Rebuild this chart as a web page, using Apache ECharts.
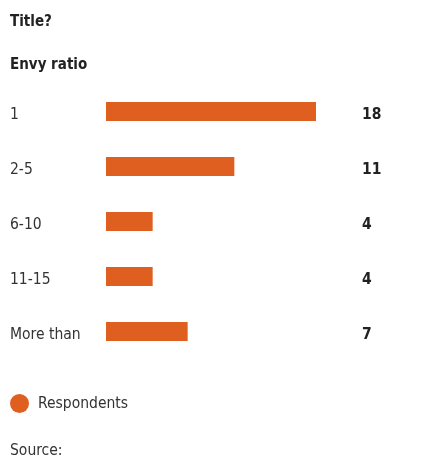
<!DOCTYPE html>
<html>
<head>
<meta charset="utf-8">
<script src="https://cdn.jsdelivr.net/npm/echarts@6/dist/echarts.min.js"></script>
<style>
  html, body { margin: 0; padding: 0; background: #fff; }
  #chart { width: 438px; height: 459px; }
</style>
</head>
<body>
<div id="chart"></div>
<script>
// Envy ratio survey: number of respondents per ratio bucket
const categories = ['1', '2-5', '6-10', '11-15', 'More than'];
const respondents = [18, 11, 4, 4, 7];
const seriesName = 'Respondents';

const barColor = '#DF5F21';
const textColor = '#333333';
const darkText = '#222222';
const narrowFont = '"DejaVu Sans Condensed", sans-serif';

const chart = echarts.init(document.getElementById('chart'), null, { renderer: 'canvas' });

chart.setOption({
  animation: false,
  backgroundColor: '#ffffff',
  title: [
    { text: 'Title?', left: 10, top: 15, padding: 0,
      textStyle: { fontFamily: narrowFont, fontSize: 15, fontWeight: 'bold', color: darkText } },
    { text: 'Envy ratio', left: 10, top: 58, padding: 0,
      textStyle: { fontFamily: narrowFont, fontSize: 15, fontWeight: 'bold', color: darkText } },
    { text: 'Source:', left: 10, top: 443, padding: 0,
      textStyle: { fontFamily: narrowFont, fontSize: 15.5, fontWeight: 'normal', color: textColor } }
  ],
  legend: {
    data: [seriesName],
    left: 10,
    top: 394,
    padding: 0,
    icon: 'circle',
    itemWidth: 19,
    itemHeight: 19,
    textStyle: { fontFamily: narrowFont, fontSize: 15.5, color: textColor, padding: [4, 0, 0, 4] }
  },
  grid: { left: 106, top: 84, width: 210, height: 275, containLabel: false },
  xAxis: {
    type: 'value',
    min: 0,
    max: 18,
    show: false
  },
  yAxis: [
    {
      type: 'category',
      data: categories,
      inverse: true,
      axisLine: { show: false },
      axisTick: { show: false },
      axisLabel: {
        align: 'left',
        verticalAlign: 'top',
        lineHeight: 7,
        margin: 96,
        fontFamily: narrowFont,
        fontSize: 15.5,
        color: textColor
      }
    },
    {
      type: 'category',
      data: respondents.map(String),
      inverse: true,
      position: 'right',
      axisLine: { show: false },
      axisTick: { show: false },
      axisLabel: {
        align: 'left',
        verticalAlign: 'top',
        lineHeight: 6,
        margin: 46,
        fontFamily: narrowFont,
        fontSize: 15.5,
        fontWeight: 'bold',
        color: darkText
      }
    }
  ],
  series: [
    {
      name: seriesName,
      type: 'bar',
      data: respondents,
      barWidth: 19,
      itemStyle: { color: barColor },
      silent: true
    }
  ]
});
</script>
</body>
</html>
